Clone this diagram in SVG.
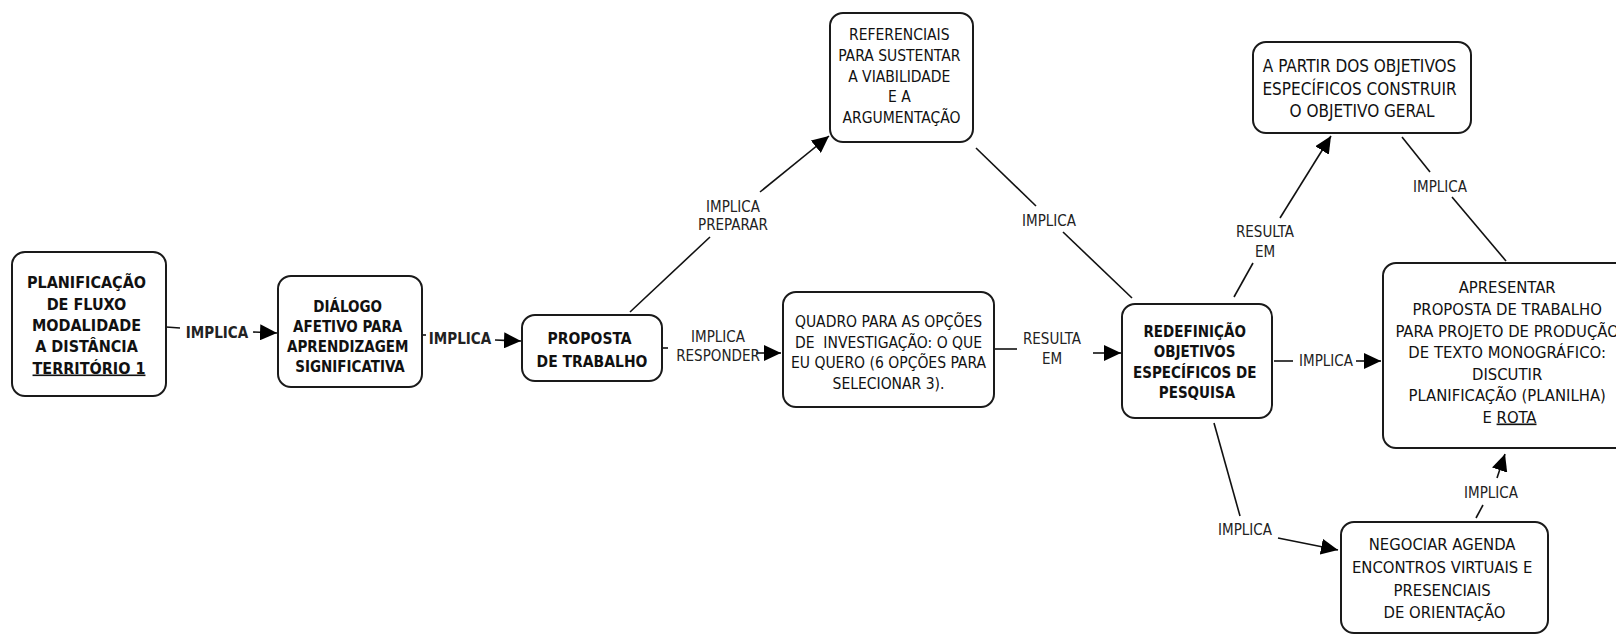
<svg xmlns="http://www.w3.org/2000/svg" width="1616" height="635" viewBox="0 0 1616 635">
  <style>
    text { font-family: "DejaVu Sans Condensed", "DejaVu Sans", sans-serif; font-stretch: condensed; fill: #111; text-anchor: middle; }
    .box { fill: #fff; stroke: #1a1a1a; stroke-width: 2; }
    .b { font-weight: bold; }
    .lbl { font-size: 15px; fill: #222; }
    .line { stroke: #111; stroke-width: 1.6; fill: none; }
    .arrow { marker-end: url(#head); }
    .u { text-decoration: underline; }
  </style>
  <defs>
    <marker id="head" markerUnits="userSpaceOnUse" markerWidth="18" markerHeight="16" refX="17" refY="8" orient="auto">
      <path d="M0,0 L17,8 L0,16 Z" fill="#000"/>
    </marker>
  </defs>
  <rect width="1616" height="635" fill="#fff"/>

  <!-- connectors: concept -> linking phrase, linking phrase -> concept -->
  <g id="connectors">
    <line class="line" x1="166" y1="327" x2="180" y2="328"/>
    <line class="line arrow" x1="253" y1="332" x2="277" y2="333"/>

    <line class="line" x1="422" y1="335" x2="426" y2="335"/>
    <line class="line arrow" x1="495" y1="340" x2="521" y2="341"/>

    <line class="line" x1="630" y1="312" x2="710" y2="237"/>
    <line class="line arrow" x1="760" y1="192" x2="829" y2="136"/>

    <line class="line" x1="663" y1="348" x2="668" y2="348"/>
    <line class="line arrow" x1="756" y1="353" x2="781" y2="353"/>

    <line class="line" x1="994" y1="349" x2="1017" y2="349"/>
    <line class="line arrow" x1="1093" y1="353" x2="1121" y2="353"/>

    <line class="line" x1="976" y1="148" x2="1036" y2="206"/>
    <line class="line" x1="1063" y1="232" x2="1132" y2="298"/>

    <line class="line" x1="1234" y1="297" x2="1253" y2="263"/>
    <line class="line arrow" x1="1280" y1="218" x2="1331" y2="136"/>

    <line class="line" x1="1402" y1="137" x2="1430" y2="172"/>
    <line class="line" x1="1452" y1="197" x2="1506" y2="261"/>

    <line class="line" x1="1274" y1="361" x2="1293" y2="361"/>
    <line class="line arrow" x1="1356" y1="361" x2="1381" y2="361"/>

    <line class="line" x1="1214" y1="423" x2="1240" y2="516"/>
    <line class="line arrow" x1="1278" y1="538" x2="1338" y2="550"/>

    <line class="line" x1="1476" y1="518" x2="1483" y2="505"/>
    <line class="line arrow" x1="1497" y1="478" x2="1505" y2="454"/>

    <!-- linking phrases -->
    <text class="lbl b" x="217" y="338">IMPLICA</text>
    <text class="lbl b" x="460" y="344">IMPLICA</text>
    <text class="lbl" x="733" y="212">IMPLICA</text>
    <text class="lbl" x="733" y="230">PREPARAR</text>
    <text class="lbl" x="718" y="342">IMPLICA</text>
    <text class="lbl" x="718" y="361">RESPONDER</text>
    <text class="lbl" x="1052" y="344">RESULTA</text>
    <text class="lbl" x="1052" y="364">EM</text>
    <text class="lbl" x="1049" y="226">IMPLICA</text>
    <text class="lbl" x="1265" y="237">RESULTA</text>
    <text class="lbl" x="1265" y="257">EM</text>
    <text class="lbl" x="1440" y="192">IMPLICA</text>
    <text class="lbl" x="1326" y="366">IMPLICA</text>
    <text class="lbl" x="1245" y="535">IMPLICA</text>
    <text class="lbl" x="1491" y="498">IMPLICA</text>
  </g>

  <g id="planificacao">
    <rect class="box" x="12" y="252" width="154" height="144" rx="13"/>
    <text class="b" font-size="16">
      <tspan x="89" y="288">PLANIFICAÇÃO</tspan>
      <tspan x="89" y="309.5">DE FLUXO</tspan>
      <tspan x="89" y="331">MODALIDADE</tspan>
      <tspan x="89" y="352">A DISTÂNCIA</tspan>
      <tspan x="89" y="373.5" class="u">TERRITÓRIO 1</tspan>
    </text>
  </g>

  <g id="dialogo">
    <rect class="box" x="278" y="276" width="144" height="111" rx="13"/>
    <text class="b" font-size="15">
      <tspan x="350" y="312">DIÁLOGO</tspan>
      <tspan x="350" y="332">AFETIVO PARA</tspan>
      <tspan x="350" y="352">APRENDIZAGEM</tspan>
      <tspan x="350" y="372">SIGNIFICATIVA</tspan>
    </text>
  </g>

  <g id="proposta">
    <rect class="box" x="522" y="315" width="140" height="66" rx="13"/>
    <text class="b" font-size="15.5">
      <tspan x="592" y="344">PROPOSTA</tspan>
      <tspan x="592" y="367">DE TRABALHO</tspan>
    </text>
  </g>

  <g id="referenciais">
    <rect class="box" x="830" y="13" width="143" height="129" rx="13"/>
    <text font-size="15.5">
      <tspan x="901.5" y="40">REFERENCIAIS</tspan>
      <tspan x="901.5" y="61">PARA SUSTENTAR</tspan>
      <tspan x="901.5" y="81.5">A VIABILIDADE</tspan>
      <tspan x="901.5" y="102">E A</tspan>
      <tspan x="901.5" y="122.5">ARGUMENTAÇÃO</tspan>
    </text>
  </g>

  <g id="quadro">
    <rect class="box" x="783" y="292" width="211" height="115" rx="13"/>
    <text font-size="15.5" xml:space="preserve"><tspan x="888.5" y="327">QUADRO PARA AS OPÇÕES</tspan><tspan x="888.5" y="347.5">DE  INVESTIGAÇÃO: O QUE</tspan><tspan x="888.5" y="368">EU QUERO (6 OPÇÕES PARA</tspan><tspan x="888.5" y="388.5">SELECIONAR 3).</tspan></text>
  </g>

  <g id="redefinicao">
    <rect class="box" x="1122" y="304" width="150" height="114" rx="13"/>
    <text class="b" font-size="15">
      <tspan x="1197" y="337">REDEFINIÇÃO</tspan>
      <tspan x="1197" y="357">OBJETIVOS</tspan>
      <tspan x="1197" y="377.5">ESPECÍFICOS DE</tspan>
      <tspan x="1197" y="398">PESQUISA</tspan>
    </text>
  </g>

  <g id="objetivo-geral">
    <rect class="box" x="1253" y="42" width="218" height="91" rx="13"/>
    <text font-size="17">
      <tspan x="1362" y="72">A PARTIR DOS OBJETIVOS</tspan>
      <tspan x="1362" y="94.5">ESPECÍFICOS CONSTRUIR</tspan>
      <tspan x="1362" y="117">O OBJETIVO GERAL</tspan>
    </text>
  </g>

  <g id="apresentar">
    <rect class="box" x="1383" y="263" width="253" height="185" rx="13"/>
    <text font-size="16.5">
      <tspan x="1509.5" y="293">APRESENTAR</tspan>
      <tspan x="1509.5" y="315">PROPOSTA DE TRABALHO</tspan>
      <tspan x="1509.5" y="336.5">PARA PROJETO DE PRODUÇÃO</tspan>
      <tspan x="1509.5" y="358">DE TEXTO MONOGRÁFICO:</tspan>
      <tspan x="1509.5" y="379.5">DISCUTIR</tspan>
      <tspan x="1509.5" y="401">PLANIFICAÇÃO (PLANILHA)</tspan>
      <tspan x="1509.5" y="422.5">E <tspan class="u">ROTA</tspan></tspan>
    </text>
  </g>

  <g id="negociar">
    <rect class="box" x="1341" y="522" width="207" height="111" rx="13"/>
    <text font-size="16.5">
      <tspan x="1444.5" y="550">NEGOCIAR AGENDA</tspan>
      <tspan x="1444.5" y="573">ENCONTROS VIRTUAIS E</tspan>
      <tspan x="1444.5" y="595.5">PRESENCIAIS</tspan>
      <tspan x="1444.5" y="618">DE ORIENTAÇÃO</tspan>
    </text>
  </g>
</svg>
